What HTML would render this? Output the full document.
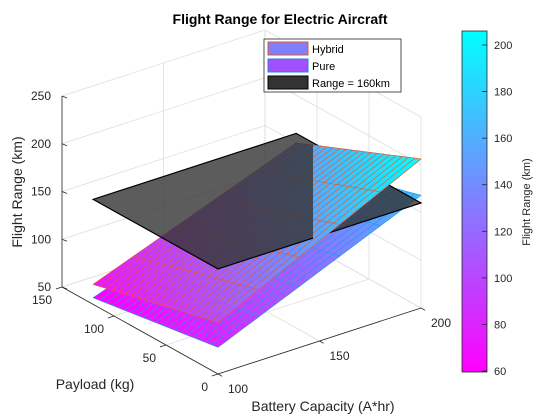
<!DOCTYPE html>
<html><head><meta charset="utf-8"><style>
body{margin:0;background:#fff;}
svg{display:block;font-family:"Liberation Sans",sans-serif;}
</style></head><body>
<svg id="chart" width="560" height="420" viewBox="0 0 560 420">
<defs><linearGradient id="cgrad" x1="0" y1="1" x2="0" y2="0"><stop offset="0" stop-color="#ff00ff"/><stop offset="1" stop-color="#00ffff"/></linearGradient>
<clipPath id="rightclip"><rect x="313" y="0" width="200" height="420"/></clipPath></defs>
<rect width="560" height="420" fill="#fff"/>
<text x="280" y="24" text-anchor="middle" font-size="14" font-weight="bold" fill="#000">Flight Range for Electric Aircraft</text>
<g id="grid"></g>
<g id="surfaces"></g>
<g id="axes"></g>
<text transform="translate(22,192) rotate(-90)" text-anchor="middle" font-size="14" fill="#262626">Flight Range (km)</text>
<text x="95" y="389" text-anchor="middle" font-size="14" fill="#262626">Payload (kg)</text>
<text x="323" y="411" text-anchor="middle" font-size="14" fill="#262626">Battery Capacity (A*hr)</text>
<g>
<rect x="264" y="39" width="137" height="53" fill="#fff" stroke="#262626" stroke-width="0.8"/>
<rect x="268" y="42" width="40" height="13" fill="#7f80ff" stroke="#e8541c"/>
<text x="312" y="53" font-size="11" fill="#000">Hybrid</text>
<rect x="268" y="59" width="40" height="13" fill="#a450ff" stroke="#2080e0"/>
<text x="312" y="70" font-size="11" fill="#000">Pure</text>
<rect x="268" y="76" width="40" height="13" fill="#333" stroke="#000"/>
<text x="312" y="87" font-size="11" fill="#000">Range = 160km</text>
</g>
<g id="cbar">
<rect x="462" y="31" width="25" height="341" fill="url(#cgrad)" stroke="#262626" stroke-width="0.8"/>
<text transform="translate(530,202) rotate(-90)" text-anchor="middle" font-size="11" fill="#262626">Flight Range (km)</text>
</g>
</svg>
<script>
const NS="http://www.w3.org/2000/svg";
const batteryRange=[100,200];
const payloadRange=[0,120];
const hybridCorners=[104,206,71,150]; // (100,0),(200,0),(100,120),(200,120)
const pureCorners=[78,168,57,130];
const rangeLevel=160;
const xTicks=[100,150,200];
const yTicks=[0,50,100,150];
const zTicks=[50,100,150,200,250];
const cTicks=[60,80,100,120,140,160,180,200];
const cLim=[59.6,206];

function P(x,y,z){const u=(x-100)/100,v=y/150,w=(z-50)/200;
 return [218+203*u-156*v, 374-66*u-87*v-191*w];}
function bil(c,x,y){const s=(x-100)/100,t=y/120;return c[0]*(1-s)*(1-t)+c[1]*s*(1-t)+c[2]*(1-s)*t+c[3]*s*t;}
function cmap(z){let t=(z-cLim[0])/(cLim[1]-cLim[0]);t=Math.max(0,Math.min(1,t));
 return `rgb(${Math.round(255*(1-t))},${Math.round(255*t)},255)`;}
function el(tag,attrs,parent){const e=document.createElementNS(NS,tag);for(const k in attrs)e.setAttribute(k,attrs[k]);parent.appendChild(e);return e;}
function line(a,b,stroke,w,parent){return el('line',{x1:a[0],y1:a[1],x2:b[0],y2:b[1],stroke:stroke,'stroke-width':w},parent);}

const grid=document.getElementById('grid');
zTicks.forEach(z=>{
 const g1=line(P(100,150,z),P(200,150,z),'#dedede',0.8,grid);
 
 
 const g2=line(P(200,0,z),P(200,150,z),'#dedede',0.8,grid);
 
 
});
xTicks.forEach(x=>{
 const a=line(P(x,150,50),P(x,150,250),'#dedede',0.8,grid);
 
 
 const b=line(P(x,0,50),P(x,150,50),'#dedede',0.8,grid);
 
 
});
yTicks.forEach(y=>{
 const a=line(P(200,y,50),P(200,y,250),'#dedede',0.8,grid);
 
 
 const b=line(P(100,y,50),P(200,y,50),'#dedede',0.8,grid);
 
 
});

const sg=document.getElementById('surfaces');
const dx=5,dy=6;
function drawSurface(name,corners,edge,filter,clip){
 const g=el('g',{},sg);
 if(clip)g.setAttribute('clip-path',clip);
 
 
 const lines=[];
 for(let x=batteryRange[0];x<batteryRange[1]-0.01;x+=dx)for(let y=payloadRange[0];y<payloadRange[1]-0.01;y+=dy){
  const zc=bil(corners,x+dx/2,y+dy/2);
  if(!filter(zc))continue;
  const q=[[x,y],[x+dx,y],[x+dx,y+dy],[x,y+dy]].map(p=>P(p[0],p[1],bil(corners,p[0],p[1])));
  const poly=el('polygon',{points:q.map(p=>p.join(',')).join(' '),fill:cmap(zc),stroke:cmap(zc),'stroke-width':0.6},g);
  
  
  lines.push([q[0],q[1]]);
  if(y+dy>=payloadRange[1]-0.01)lines.push([q[3],q[2]]);
  if(x%20===0)lines.push([q[0],q[3]]);
  if(x+dx>=batteryRange[1]-0.01)lines.push([q[1],q[2]]);
 }
 lines.forEach(l=>{const e=line(l[0],l[1],edge,0.6,g);
  
  });
}
drawSurface('pure',pureCorners,'#1a9be6',()=>true);
drawSurface('hybrid',hybridCorners,'#f0541c',()=>true);
const c4=[[100,0],[200,0],[200,120],[100,120]].map(p=>P(p[0],p[1],rangeLevel));
const plane=el('polygon',{points:c4.map(p=>p.join(',')).join(' '),fill:'#333','fill-opacity':0.8,stroke:'#000','stroke-width':1.2},sg);


drawSurface('hybrid-upper',hybridCorners,'#f0541c',z=>z>=145,'url(#rightclip)');

const ax=document.getElementById('axes');
const xa=line(P(100,0,50),P(200,0,50),'#262626',0.8,ax);


const ya=line(P(100,0,50),P(100,150,50),'#262626',0.8,ax);


const za=line(P(100,150,50),P(100,150,250),'#262626',0.8,ax);


xTicks.forEach(x=>{const a=P(x,0,50),b=P(x,-4,50);
 const t=line(a,b,'#262626',0.8,ax);
 const lb=el('text',{x:a[0]+20,y:a[1]+19,'text-anchor':'middle','font-size':12,fill:'#262626'},ax);lb.textContent=x;
 });
yTicks.forEach(y=>{const a=P(100,y,50),b=P(97,y,50);
 const t=line(a,b,'#262626',0.8,ax);
 const lb=el('text',{x:a[0]-10,y:a[1]+17,'text-anchor':'end','font-size':12,fill:'#262626'},ax);lb.textContent=y;
 });
zTicks.forEach(z=>{const a=P(100,150,z);
 const t=line(a,[a[0]+5,a[1]+2],'#262626',0.8,ax);
 const lb=el('text',{x:a[0]-11,y:a[1]+4,'text-anchor':'end','font-size':12,fill:'#262626'},ax);lb.textContent=z;
 });
const cb=document.getElementById('cbar');
cTicks.forEach(v=>{const y=372-(v-cLim[0])/(cLim[1]-cLim[0])*341;
 const t=line([482,y],[487,y],'#262626',0.8,cb);
 const lb=el('text',{x:494,y:y+4,'font-size':11,fill:'#262626'},cb);lb.textContent=v;
 });
</script>
</body></html>
